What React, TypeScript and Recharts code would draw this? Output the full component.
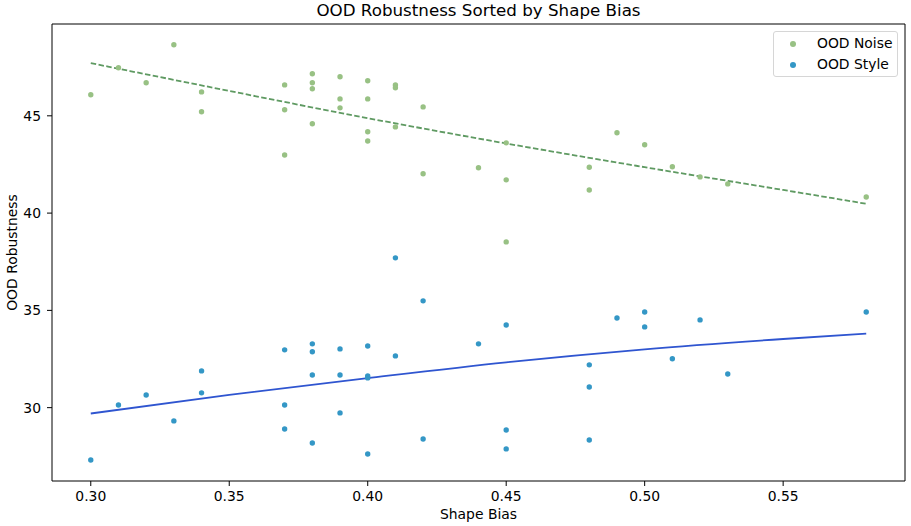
import React from "react";
import {
  ComposedChart,
  Scatter,
  Line,
  XAxis,
  YAxis,
  Legend,
  Label,
  ReferenceLine,
  Customized,
} from "recharts";

// shape bias / robustness per model
const noiseShapeBias = [
  0.3, 0.31, 0.32, 0.33, 0.34, 0.34, 0.37, 0.37, 0.37, 0.38, 0.38, 0.38, 0.38,
  0.39, 0.39, 0.39, 0.4, 0.4, 0.4, 0.4, 0.41, 0.41, 0.41, 0.42, 0.42, 0.44,
  0.45, 0.45, 0.45, 0.48, 0.48, 0.49, 0.5, 0.51, 0.52, 0.53, 0.58,
];
const noiseRobustness = [
  46.08, 47.47, 46.7, 48.65, 46.23, 45.21, 46.59, 45.31, 42.99, 47.16, 46.7,
  46.39, 44.59, 47.01, 45.87, 45.41, 46.8, 45.87, 44.18, 43.71, 46.59, 46.44,
  44.43, 45.46, 42.02, 42.33, 43.61, 41.71, 38.52, 42.36, 41.19, 44.13, 43.51,
  42.38, 41.86, 41.5, 40.83,
];

const styleShapeBias = [
  0.3, 0.31, 0.32, 0.33, 0.34, 0.34, 0.37, 0.37, 0.37, 0.38, 0.38, 0.38, 0.38,
  0.39, 0.39, 0.39, 0.4, 0.4, 0.4, 0.4, 0.41, 0.41, 0.42, 0.42, 0.44, 0.45,
  0.45, 0.45, 0.48, 0.48, 0.48, 0.49, 0.5, 0.5, 0.51, 0.52, 0.53, 0.58,
];
const styleRobustness = [
  27.31, 30.14, 30.65, 29.32, 31.89, 30.76, 32.97, 30.14, 28.9, 33.28, 32.87,
  31.68, 28.18, 33.02, 31.68, 29.73, 33.17, 31.63, 31.53, 27.62, 37.7, 32.66,
  35.49, 28.39, 33.28, 34.25, 28.85, 27.88, 32.2, 31.06, 28.34, 34.61, 34.92,
  34.15, 32.51, 34.51, 31.73, 34.92,
];

// fitted trend lines, sampled from the figure
const trendX = [0.3, 0.35, 0.4, 0.45, 0.5, 0.55, 0.58];
const noiseTrend = [47.71, 46.28, 44.88, 43.58, 42.36, 41.19, 40.48];
const styleTrend = [29.7, 30.66, 31.52, 32.33, 33.0, 33.53, 33.81];

const xTicks = [0.3, 0.35, 0.4, 0.45, 0.5, 0.55];
const yTicks = [30, 35, 40, 45];

const X_DOMAIN: [number, number] = [0.286, 0.594];
const Y_DOMAIN: [number, number] = [26.23, 49.72];

const NOISE_COLOR = "#98c184";
const STYLE_COLOR = "#3497c6";
const NOISE_LINE = "#5f9a62";
const STYLE_LINE = "#2f55d0";
const FONT = "DejaVu Sans, sans-serif";

const zip = (xs: number[], ys: number[]) => xs.map((x, i) => ({ x, y: ys[i] }));

const noiseData = zip(noiseShapeBias, noiseRobustness);
const styleData = zip(styleShapeBias, styleRobustness);
const noiseTrendData = zip(trendX, noiseTrend);
const styleTrendData = zip(trendX, styleTrend);

const dot = (color: string) => (props: any) =>
  <circle cx={props.cx} cy={props.cy} r={2.7} fill={color} />;

const tickStyle = { fontSize: 13.9, fontFamily: FONT, fill: "#000" };

function LegendBox() {
  const row = (color: string, label: string, top: number) => (
    <div style={{ position: "absolute", left: 0, top, height: 20, width: "100%" }}>
      <span
        style={{
          position: "absolute",
          left: 16,
          top: 7,
          width: 6,
          height: 6,
          borderRadius: 3,
          background: color,
        }}
      />
      <span
        style={{
          position: "absolute",
          left: 43,
          top: 1,
          fontSize: 13.9,
          lineHeight: "16px",
          fontFamily: FONT,
          color: "#000",
          whiteSpace: "nowrap",
        }}
      >
        {label}
      </span>
    </div>
  );
  return (
    <div
      style={{
        position: "relative",
        width: 125,
        height: 46,
        boxSizing: "border-box",
        border: "1px solid #d6d6d6",
        borderRadius: 3,
        background: "rgba(255,255,255,0.8)",
      }}
    >
      {row(NOISE_COLOR, "OOD Noise", 2)}
      {row(STYLE_COLOR, "OOD Style", 23)}
    </div>
  );
}

export default function App() {
  return (
    <div style={{ position: "absolute", left: 0, top: 0, background: "#fff" }}>
      <ComposedChart
        width={911}
        height={526}
        margin={{ top: 24, right: 6, bottom: 0, left: 0 }}
      >
        <XAxis
          dataKey="x"
          type="number"
          domain={X_DOMAIN}
          ticks={xTicks}
          tickFormatter={(v: number) => v.toFixed(2)}
          allowDataOverflow
          height={45}
          tickSize={5}
          tickMargin={5}
          tick={tickStyle}
          stroke="#000"
        >
          <Label
            value="Shape Bias"
            position="insideBottom"
            offset={7}
            style={{ fontSize: 13.9, fontFamily: FONT, fill: "#000" }}
          />
        </XAxis>
        <YAxis
          dataKey="y"
          type="number"
          domain={Y_DOMAIN}
          ticks={yTicks}
          allowDataOverflow
          width={52}
          tickSize={5}
          tickMargin={6}
          tick={tickStyle}
          stroke="#000"
        >
          <Label
            value="OOD Robustness"
            angle={-90}
            position="insideLeft"
            offset={12}
            style={{ fontSize: 13.9, fontFamily: FONT, fill: "#000", textAnchor: "middle" }}
          />
        </YAxis>
        {/* top and right spines */}
        <ReferenceLine y={Y_DOMAIN[1]} stroke="#000" strokeWidth={1} />
        <ReferenceLine x={X_DOMAIN[1]} stroke="#000" strokeWidth={1} />
        <Scatter
          name="OOD Noise"
          data={noiseData}
          dataKey="y"
          shape={dot(NOISE_COLOR)}
          isAnimationActive={false}
        />
        <Scatter
          name="OOD Style"
          data={styleData}
          dataKey="y"
          shape={dot(STYLE_COLOR)}
          isAnimationActive={false}
        />
        <Line
          data={noiseTrendData}
          dataKey="y"
          type="monotone"
          stroke={NOISE_LINE}
          strokeWidth={1.8}
          strokeDasharray="5.5 2.4"
          dot={false}
          activeDot={false}
          legendType="none"
          isAnimationActive={false}
        />
        <Line
          data={styleTrendData}
          dataKey="y"
          type="monotone"
          stroke={STYLE_LINE}
          strokeWidth={1.8}
          dot={false}
          activeDot={false}
          legendType="none"
          isAnimationActive={false}
        />
        <Legend
          layout="vertical"
          align="center"
          verticalAlign="middle"
          wrapperStyle={{ left: 773, top: 31, width: 125, height: 46 }}
          content={() => <LegendBox />}
        />
        <Customized
          component={() => (
            <text
              x={478.5}
              y={16}
              textAnchor="middle"
              fontSize={16.7}
              fontFamily={FONT}
              fill="#000"
            >
              OOD Robustness Sorted by Shape Bias
            </text>
          )}
        />
      </ComposedChart>
    </div>
  );
}
